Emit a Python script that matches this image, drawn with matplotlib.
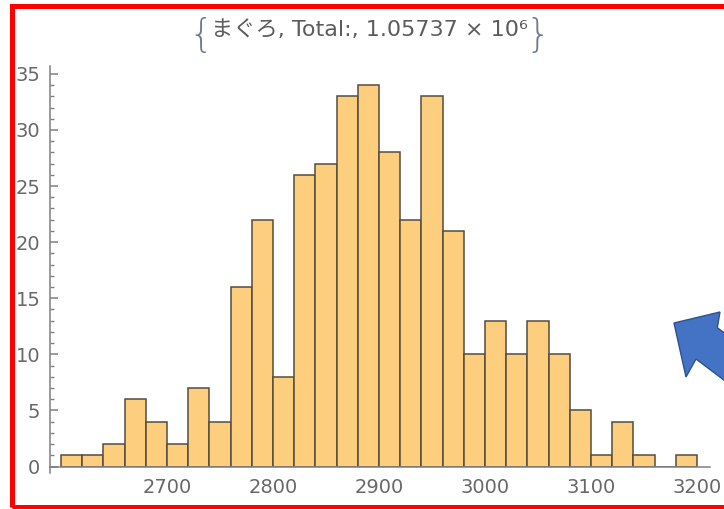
import numpy as np
import matplotlib
matplotlib.use("Agg")
import matplotlib.pyplot as plt
from matplotlib.patches import Polygon, Rectangle
from matplotlib.ticker import MultipleLocator

# daily catch weights of まぐろ, binned every 20
bin_edges = np.arange(2600, 3201, 20)
counts = [1, 1, 2, 6, 4, 2, 7, 4, 16, 22, 8, 26, 27, 33, 34,
          28, 22, 33, 21, 10, 13, 10, 13, 10, 5, 1, 4, 1, 0, 1]
xticks = [2700, 2800, 2900, 3000, 3100, 3200]
yticks = [0, 5, 10, 15, 20, 25, 30, 35]
title_main = "まぐろ, Total:, 1.05737 × 10⁶"

W, H = 724, 509
fig = plt.figure(figsize=(W / 100, H / 100), dpi=100)
fig.patch.set_facecolor("white")

def px(x, y):
    return x / W, 1 - y / H

# axes box in pixels: left 50, right 710, top 66, bottom 466.5
ax = fig.add_axes([50 / W, 1 - 466.5 / H, 660 / W, 400.5 / H])
ax.bar(bin_edges[:-1], counts, width=20, align="edge",
       color="#fcce7e", edgecolor="#554c3e", linewidth=1.1)

ax.set_xlim(2589.6, 3212.3)
ax.set_ylim(0, 35.7)
ax.set_xticks(xticks)
ax.set_xticklabels([str(t) for t in xticks])
ax.set_yticks(yticks)
ax.yaxis.set_minor_locator(MultipleLocator(1))

axis_grey = "#808080"
for side in ["top", "right"]:
    ax.spines[side].set_visible(False)
for side in ["left", "bottom"]:
    ax.spines[side].set_color(axis_grey)
    ax.spines[side].set_linewidth(1.1)
ax.spines["left"].set_bounds(-0.6, 35.7)

ax.tick_params(axis="y", which="major", direction="in", length=6, width=1.1,
               color=axis_grey, pad=7, labelsize=14, labelcolor="#686868")
ax.tick_params(axis="y", which="minor", direction="in", length=3, width=1.0,
               color=axis_grey)
ax.tick_params(axis="x", which="both", length=0, pad=8, labelsize=14,
               labelcolor="#686868")

# title with tall braces on each side
fam = ["DejaVu Sans", "Noto Sans CJK JP"]
tx, ty = px(369, 30)
t = fig.text(tx, ty, title_main, ha="center", va="center", fontsize=16,
             color="#5c5c5c", family=fam)
fig.canvas.draw()
bb = t.get_window_extent(fig.canvas.get_renderer())
bx, by = px(0, 36)
fig.text(bb.x0 / W + 0.004, by, "{", ha="right", va="center", fontsize=28,
         color="#6c7a8c", fontweight="light", family=fam)
fig.text(bb.x1 / W - 0.003, by, "}", ha="left", va="center", fontsize=28,
         color="#6c7a8c", fontweight="light", family=fam)

# red frame around the chart
x0, y0 = px(11.5, 6.5)
x1, y1 = px(760, 507)
fig.patches.append(Rectangle((x0, y1), x1 - x0, y0 - y1, fill=False,
                             edgecolor="#ff0000", linewidth=3.6,
                             transform=fig.transFigure, figure=fig))

# blue arrow pointing up-left
arrow_px = [(674, 323), (720, 312), (717.3, 327.7), (770, 367),
            (745, 396), (696, 359), (686, 377)]
fig.patches.append(Polygon([px(x, y) for x, y in arrow_px], closed=True,
                           facecolor="#4472c4", edgecolor="#2f528f",
                           linewidth=1.0, transform=fig.transFigure,
                           figure=fig))

fig.savefig("out.png", dpi=100)
